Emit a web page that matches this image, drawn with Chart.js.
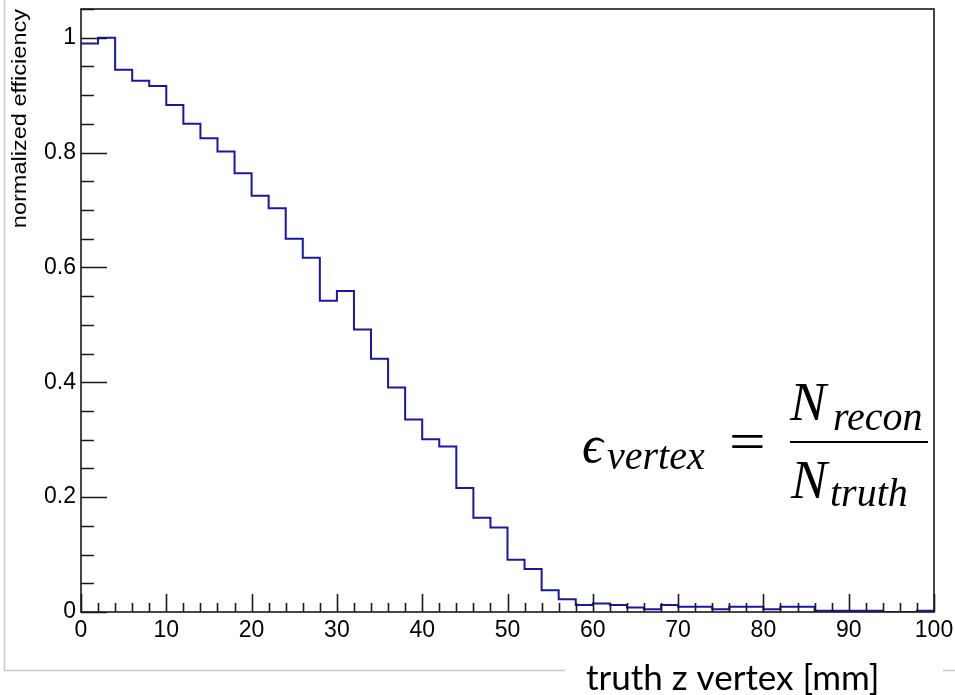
<!DOCTYPE html>
<html>
<head>
<meta charset="utf-8">
<script src="https://cdn.jsdelivr.net/npm/chart.js@4"></script>
<style>
  body { margin: 0; background: #fff; }
  canvas { display: block; }
</style>
</head>
<body>
<canvas id="effChart" width="955" height="695"></canvas>
<script>
// bin lower edges [mm], 2 mm wide bins
const binLow = [0, 2, 4, 6, 8, 10, 12, 14, 16, 18,
                20, 22, 24, 26, 28, 30, 32, 34, 36, 38,
                40, 42, 44, 46, 48, 50, 52, 54, 56, 58,
                60, 62, 64, 66, 68, 70, 72, 74, 76, 78,
                80, 82, 84, 86, 88, 90, 92, 94, 96, 98];
const binHigh = 100;

// normalized efficiency per bin
const efficiency = [0.990, 1.000, 0.944, 0.925, 0.916, 0.883, 0.850, 0.825, 0.802, 0.764,
                    0.725, 0.703, 0.650, 0.617, 0.542, 0.559, 0.492, 0.441, 0.391, 0.335,
                    0.301, 0.288, 0.216, 0.164, 0.147, 0.091, 0.075, 0.038, 0.022, 0.012,
                    0.015, 0.012, 0.008, 0.005, 0.012, 0.009, 0.009, 0.005, 0.009, 0.009,
                    0.005, 0.009, 0.009, 0.002, 0.002, 0.002, 0.002, 0, 0, 0.002];

const xTitle = 'truth z vertex [mm]';
const yTitle = 'normalized efficiency';

// step points: each bin value is held from its low edge to the next edge
const points = binLow.map((x, i) => ({ x: x, y: efficiency[i] }));
points.push({ x: binHigh, y: efficiency[efficiency.length - 1] });

const labelFont = '"Liberation Sans", Arial, sans-serif';
const mathFont = '"Liberation Serif", "DejaVu Serif", serif';

// ROOT-like frame, inward ticks and the text annotations
const decorations = {
    id: 'decorations',
    afterDraw(chart) {
        const ctx = chart.ctx;
        const area = chart.chartArea;
        const xs = chart.scales.x;
        const ys = chart.scales.y;

        ctx.save();
        // gray border of the pasted canvas
        ctx.strokeStyle = '#c8c8c8';
        ctx.lineWidth = 1.5;
        ctx.beginPath();
        ctx.moveTo(4.5, 0);
        ctx.lineTo(4.5, 670.5);
        ctx.lineTo(565, 670.5);
        ctx.moveTo(943, 670.5);
        ctx.lineTo(955, 670.5);
        ctx.stroke();

        // frame
        ctx.strokeStyle = '#1a1a1a';
        ctx.lineWidth = 1.6;
        ctx.strokeRect(area.left, area.top, area.right - area.left, area.bottom - area.top);

        // y ticks
        ctx.beginPath();
        for (let v = 0; v <= 1.0501; v += 0.05) {
            const py = Math.round(ys.getPixelForValue(v)) + 0.5;
            const major = Math.abs(v / 0.2 - Math.round(v / 0.2)) < 1e-6;
            ctx.moveTo(area.left, py);
            ctx.lineTo(area.left + (major ? 26 : 13), py);
        }
        // x ticks
        for (let v = 0; v <= 100; v += 2) {
            const px = Math.round(xs.getPixelForValue(v)) + 0.5;
            const major = v % 10 === 0;
            ctx.moveTo(px, area.bottom);
            ctx.lineTo(px, area.bottom - (major ? 18 : 9));
        }
        ctx.stroke();

        // y axis title, stretched like the original
        ctx.fillStyle = '#000';
        ctx.font = '21px ' + labelFont;
        ctx.textAlign = 'right';
        ctx.textBaseline = 'alphabetic';
        ctx.translate(26, 9);
        ctx.rotate(-Math.PI / 2);
        ctx.scale(1.12, 1);
        ctx.fillText(yTitle, 0, 0);
        ctx.restore();

        // x axis title
        ctx.save();
        ctx.fillStyle = '#000';
        ctx.font = '35px Lato, "Open Sans", sans-serif';
        ctx.textAlign = 'left';
        ctx.textBaseline = 'alphabetic';
        ctx.fillText(xTitle, 586, 690);
        ctx.restore();

        // formula
        ctx.save();
        ctx.fillStyle = '#000';
        ctx.textBaseline = 'alphabetic';
        ctx.textAlign = 'left';
        ctx.font = 'italic 52px ' + mathFont;
        ctx.fillText('\u03F5', 582, 462);
        ctx.font = 'italic 40px ' + mathFont;
        ctx.fillText('vertex', 607, 469);
        ctx.save();
        ctx.translate(729, 459);
        ctx.scale(1.25, 1);
        ctx.font = '52px ' + mathFont;
        ctx.fillText('=', 0, 0);
        ctx.restore();
        ctx.font = 'italic 54px ' + mathFont;
        ctx.fillText('N', 790, 420);
        ctx.fillText('N', 791, 498);
        ctx.font = 'italic 40px ' + mathFont;
        ctx.fillText('recon', 833, 430);
        ctx.fillText('truth', 830, 506);
        ctx.fillRect(790, 441, 138, 2);
        ctx.restore();
    }
};

const ctx = document.getElementById('effChart').getContext('2d');
new Chart(ctx, {
    type: 'line',
    data: {
        datasets: [{
            label: 'efficiency',
            data: points,
            stepped: 'before',
            borderColor: '#1818a8',
            borderWidth: 2,
            pointRadius: 0,
            fill: false
        }]
    },
    options: {
        responsive: false,
        animation: false,
        layout: { padding: { left: 0, top: 9, right: 21, bottom: 0 } },
        plugins: {
            legend: { display: false },
            tooltip: { enabled: false }
        },
        scales: {
            x: {
                type: 'linear',
                min: 0,
                max: 100,
                grid: { display: false, drawTicks: false },
                border: { display: false },
                ticks: {
                    stepSize: 10,
                    padding: 5,
                    color: '#000',
                    maxRotation: 0,
                    font: { family: labelFont, size: 23 }
                },
                afterFit(scale) {
                    scale.height = 83;
                    scale.paddingLeft = 0;
                    scale.paddingRight = 0;
                }
            },
            y: {
                min: 0,
                max: 1.05,
                grid: { display: false, drawTicks: false },
                border: { display: false },
                ticks: {
                    stepSize: 0.2,
                    includeBounds: false,
                    padding: 5,
                    color: '#000',
                    font: { family: labelFont, size: 23 },
                    callback: (value) => String(+value.toFixed(1))
                },
                afterFit(scale) {
                    scale.width = 81;
                    scale.paddingTop = 0;
                    scale.paddingBottom = 0;
                }
            }
        }
    },
    plugins: [decorations]
});
</script>
</body>
</html>
